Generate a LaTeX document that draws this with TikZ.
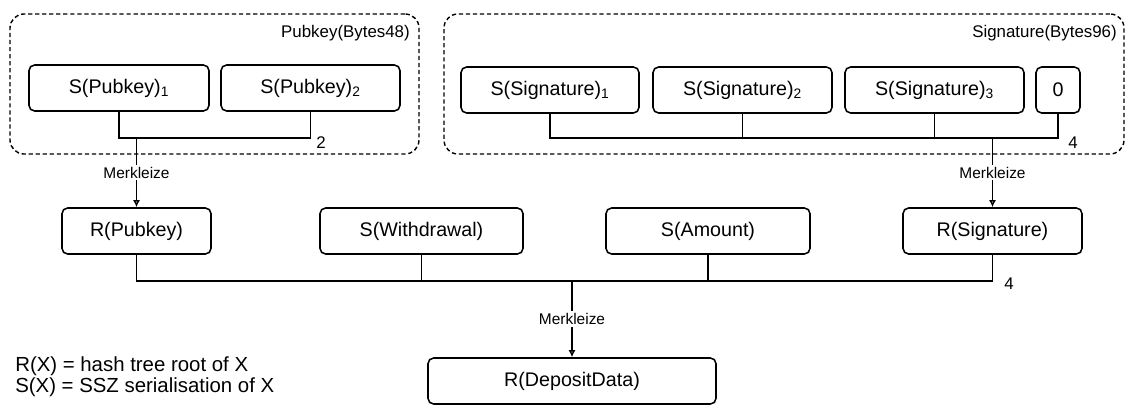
\documentclass[tikz,border=0pt]{standalone}
\usepackage{fontspec}
\setmainfont{Liberation Sans}
\usetikzlibrary{positioning,arrows.meta}

\tikzset{
  block/.style={draw, line width=1.1pt, rounded corners=4pt, minimum height=1.15cm, inner sep=2pt, font=\fontsize{14}{16}\selectfont},
  boxw/.style={minimum width=#1*0.025cm},
  group/.style={draw, line width=1pt, dash pattern=on 3pt off 2pt, rounded corners=10pt, minimum height=3.5cm},
  grouptitle/.style={anchor=east, inner sep=0pt, font=\fontsize{12}{14}\selectfont},
  bus/.style={line width=1.1pt},
  merk/.style={line width=1.1pt, -{Latex[open,length=5pt,width=5pt]}},
  merklbl/.style={fill=white, inner sep=1.5pt, font=\fontsize{11}{13}\selectfont},
  countlbl/.style={inner sep=0pt, font=\fontsize{12}{14}\selectfont},
  legend/.style={anchor=west, inner sep=0pt, font=\fontsize{14.5}{16}\selectfont}
}

\begin{document}
\begin{tikzpicture}[x=0.025cm, y=-0.025cm]
  \useasboundingbox (0,0) rectangle (1128,407);

  \node[group, boxw=409] (pkgroup) at (214.5,84) {};
  \node[group, boxw=680] (sggroup) at (784,84) {};
  \node[grouptitle] (pktitle) at (410,33) {Pubkey(Bytes48)};
  \node[grouptitle] (sgtitle) at (1117,33) {Signature(Bytes96)};

  \node[block, boxw=180] (pk1) at (119,88) {S(Pubkey)\textsubscript{1}};
  \node[block, boxw=179] (pk2) at (310.5,88) {S(Pubkey)\textsubscript{2}};

  \node[block, boxw=178] (sg1) at (550,90) {S(Signature)\textsubscript{1}};
  \node[block, boxw=179] (sg2) at (742.5,90) {S(Signature)\textsubscript{2}};
  \node[block, boxw=179] (sg3) at (934.5,90) {S(Signature)\textsubscript{3}};
  \node[block, boxw=44] (sgz) at (1058,90) {0};

  \node[block, boxw=149] (rpk) at (136.5,231) {R(Pubkey)};
  \node[block, boxw=203] (swd) at (421.5,231) {S(Withdrawal)};
  \node[block, boxw=204] (samt) at (708,231) {S(Amount)};
  \node[block, boxw=179] (rsg) at (992.5,231) {R(Signature)};

  \node[block, boxw=288] (rdd) at (572,381) {R(DepositData)};

  \coordinate (pkbus) at (136.5,138);
  \coordinate (sgbus) at (992.5,138);
  \coordinate (topbus) at (572,281);

  \draw[bus] (pk1.south) -- (pk1.south |- pkbus) -- (pk2.south |- pkbus) -- (pk2.south);
  \node[countlbl] (pkcount) at (321,143) {2};
  \draw[merk] (rpk.north |- pkbus) -- node[merklbl] {Merkleize} (rpk.north);

  \draw[bus] (sg1.south) -- (sg1.south |- sgbus) -- (sgz.south |- sgbus) -- (sgz.south);
  \foreach \n in {sg2,sg3}
    \draw[bus] (\n.south) -- (\n.south |- sgbus);
  \node[countlbl] (sgcount) at (1073,143) {4};
  \draw[merk] (rsg.north |- sgbus) -- node[merklbl] {Merkleize} (rsg.north);

  \draw[bus] (rpk.south) -- (rpk.south |- topbus) -- (rsg.south |- topbus) -- (rsg.south);
  \foreach \n in {swd,samt}
    \draw[bus] (\n.south) -- (\n.south |- topbus);
  \node[countlbl] (topcount) at (1009,284) {4};
  \draw[merk] (topbus) -- node[merklbl] {Merkleize} (rdd.north);

  \node[legend] (legr) at (15,366) {R(X) = hash tree root of X};
  \node[legend] (legs) at (15,387) {S(X) = SSZ serialisation of X};
\end{tikzpicture}
\end{document}
